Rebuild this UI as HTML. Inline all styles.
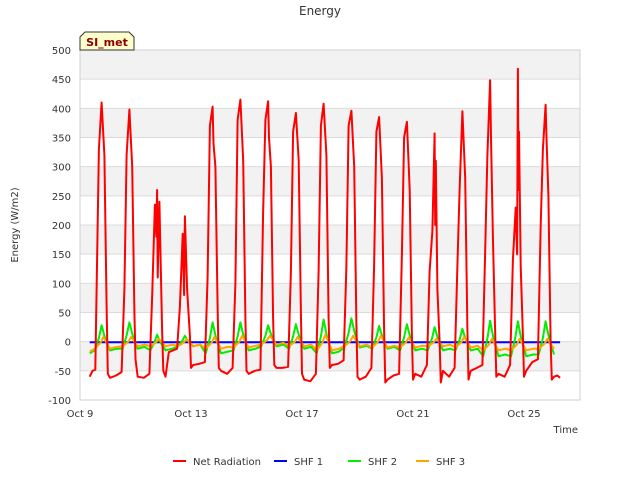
<!DOCTYPE html>
<html><head><meta charset="utf-8"><style>
body{margin:0;background:#fff}
svg{display:block;font-family:"DejaVu Sans","Liberation Sans",sans-serif}
</style></head><body>
<svg id="chart" width="640" height="480" viewBox="0 0 640 480">
<text x="320" y="15" text-anchor="middle" font-size="12" fill="#333">Energy</text>
<g id="grid"></g>
<g id="yticks"></g>
<g id="xticks"></g>
<g id="series"></g>
<text x="18" y="225" transform="rotate(-90 18 225)" text-anchor="middle" font-size="10" fill="#333">Energy (W/m2)</text>
<text x="578" y="433" text-anchor="end" font-size="10" fill="#333">Time</text>
<g>
<path d="M80,50 L80,37 L85,32 L129,32 L134,37 L134,50 Z" fill="#ffffcc" stroke="#333" stroke-width="1"/>
<text x="107" y="46" text-anchor="middle" font-size="11" font-weight="bold" fill="#8b0000">SI_met</text>
</g>
<g>
<g><line x1="173" y1="461" x2="186" y2="461" stroke="#ff0000" stroke-width="2"/><text x="193" y="465" font-size="10" fill="#333">Net Radiation</text></g>
<g><line x1="274" y1="461" x2="287" y2="461" stroke="#0000ff" stroke-width="2"/><text x="294" y="465" font-size="10" fill="#333">SHF 1</text></g>
<g><line x1="348" y1="461" x2="361" y2="461" stroke="#00ee00" stroke-width="2"/><text x="368" y="465" font-size="10" fill="#333">SHF 2</text></g>
<g><line x1="416" y1="461" x2="429" y2="461" stroke="#ffa500" stroke-width="2"/><text x="436" y="465" font-size="10" fill="#333">SHF 3</text></g>
</g>
</svg>
<script>
const yTicks=[-100,-50,0,50,100,150,200,250,300,350,400,450,500];
const xTickDays=[0,4,8,12,16];
const xTickLabels=["Oct 9","Oct 13","Oct 17","Oct 21","Oct 25"];
const netT=[0.35,0.45,0.55,0.6,0.68,0.78,0.88,0.96,1.0,1.08,
1.3,1.5,1.6,1.68,1.78,1.88,1.96,2.0,2.08,
2.3,2.5,2.6,2.7,2.75,2.78,2.8,2.86,2.96,3.0,3.08,
3.2,3.5,3.6,3.7,3.75,3.78,3.86,3.96,4.0,4.08,
4.3,4.5,4.6,4.68,4.78,4.81,4.88,4.96,5.0,5.08,
5.3,5.5,5.6,5.68,5.78,5.88,5.96,6.0,6.08,
6.3,6.5,6.6,6.68,6.78,6.81,6.88,6.96,7.0,7.08,
7.3,7.5,7.6,7.68,7.78,7.88,7.96,8.0,8.08,
8.3,8.5,8.6,8.68,8.78,8.88,8.96,9.0,9.08,
9.3,9.5,9.6,9.68,9.78,9.88,9.96,10.0,10.08,
10.3,10.5,10.6,10.68,10.78,10.88,10.96,11.0,11.08,
11.3,11.5,11.6,11.68,11.78,11.88,11.96,12.0,12.08,
12.3,12.5,12.6,12.7,12.78,12.8,12.82,12.88,12.96,13.0,13.08,
13.3,13.5,13.6,13.68,13.78,13.88,13.96,14.0,14.08,
14.3,14.5,14.6,14.68,14.78,14.81,14.88,14.96,15.0,15.08,
15.3,15.5,15.6,15.7,15.75,15.78,15.8,15.82,15.88,15.96,16.0,16.08,
16.3,16.5,16.6,16.68,16.78,16.81,16.88,16.96,17.0,17.08,17.2,17.3];
const netV=[-60,-50,-48,100,330,410,320,60,-55,-62,
-58,-52,90,320,398,300,50,-30,-60,
-62,-55,80,235,180,260,110,240,20,-50,-60,
-18,-12,60,185,80,215,90,10,-45,-40,
-38,-35,110,370,403,340,300,60,-45,-50,
-55,-45,100,380,415,310,40,-50,-55,
-50,-48,220,380,412,350,300,40,-40,-45,
-45,-43,120,360,392,310,50,-55,-65,
-68,-55,120,370,408,320,40,-45,-40,
-38,-32,130,370,396,300,30,-60,-65,
-60,-45,130,360,385,280,20,-70,-65,
-58,-55,150,350,377,260,10,-65,-55,
-60,-40,120,190,357,200,310,90,0,-70,-50,
-60,-45,130,260,395,280,20,-65,-50,
-45,-40,150,320,448,350,180,20,-60,-55,
-60,-40,140,230,150,468,260,360,130,10,-60,-50,
-35,-30,200,330,406,350,250,0,-65,-60,-58,-62];
const dayPeakT=[0.78,1.78,2.78,3.78,4.78,5.78,6.78,7.78,8.78,9.78,10.78,11.78,12.78,13.78,14.78,15.78,16.78];
const shf2Peak=[28,33,12,10,33,33,28,30,38,40,27,30,25,22,36,35,35];
const shf2Night=[-15,-12,-15,-8,-20,-15,-8,-12,-20,-10,-12,-15,-15,-15,-25,-25,-22];
const shf3Peak=[8,8,5,5,8,10,10,8,12,10,10,7,5,8,5,5,5];
const shf3Night=[-12,-8,-8,-8,-12,-10,-5,-8,-15,-8,-10,-10,-8,-10,-15,-15,-12];
const shf1T=[0.35,17.3];
const shf1V=[-1,-1];

const NS="http://www.w3.org/2000/svg";
const X0=80,X1=580,Y0=50,Y1=400,dayPx=27.75;
const xs=d=>X0+d*dayPx;
const ys=v=>Y1-(v+100)/600*(Y1-Y0);
function mk(tag,attrs,parent){const e=document.createElementNS(NS,tag);for(const k in attrs)e.setAttribute(k,attrs[k]);parent.appendChild(e);return e;}
const grid=document.getElementById('grid');
for(let i=0;i<yTicks.length-1;i++){
  if((yTicks.length-2-i)%2===0){const r=mk('rect',{x:X0,y:ys(yTicks[i+1]),width:X1-X0,height:ys(yTicks[i])-ys(yTicks[i+1]),fill:'#f2f2f2'},grid);
  
  }
}
const yt=document.getElementById('yticks');
yTicks.forEach(v=>{
  const l=mk('line',{x1:X0,x2:X1,y1:ys(v),y2:ys(v),stroke:'#dcdcdc','stroke-width':1},grid);
  
  
  const t=mk('text',{x:X0-9,y:ys(v)+4,'text-anchor':'end','font-size':10,fill:'#333'},yt);
  t.textContent=v;
  
  
});
mk('rect',{x:X0,y:Y0,width:X1-X0,height:Y1-Y0,fill:'none',stroke:'#d0d0d0'},grid);
const xt=document.getElementById('xticks');
xTickDays.forEach((d,i)=>{
  const t=mk('text',{x:xs(d),y:417,'text-anchor':'middle','font-size':10,fill:'#333'},xt);
  t.textContent=xTickLabels[i];
  
  
});
const ser=document.getElementById('series');
function line(T,V,color,name,w){
  const p=mk('polyline',{points:T.map((t,i)=>xs(t).toFixed(1)+','+ys(V[i]).toFixed(1)).join(' '),fill:'none',stroke:color,'stroke-width':w,'stroke-linejoin':'round'},ser);
  
  
}
function daily(peaks,nights,lag){
  const T=[],V=[];
  T.push(0.35);V.push(nights[0]-5);
  dayPeakT.forEach((p,i)=>{
    T.push(p-0.25);V.push(nights[i]);
    T.push(p-0.1+lag);V.push((peaks[i]+nights[i])/2);
    T.push(p+lag);V.push(peaks[i]);
    T.push(p+0.12+lag);V.push((peaks[i]+nights[i])/2);
    T.push(p+0.3);V.push(nights[i]);
    T.push(p+0.55);V.push(nights[i]+3);
  });
  const n=T.filter(t=>t<=17.3).length;
  return [T.slice(0,n),V.slice(0,n)];
}
line(shf1T,shf1V,'#0000ff','shf1-line',2);
const s2=daily(shf2Peak,shf2Night,0);
line(s2[0],s2[1],'#00ee00','shf2-line',2);
const s3=daily(shf3Peak,shf3Night,0.06);
line(s3[0],s3[1],'#ffa500','shf3-line',2);
line(netT,netV,'#ff0000','net-radiation-line',2);
</script>
</body></html>
